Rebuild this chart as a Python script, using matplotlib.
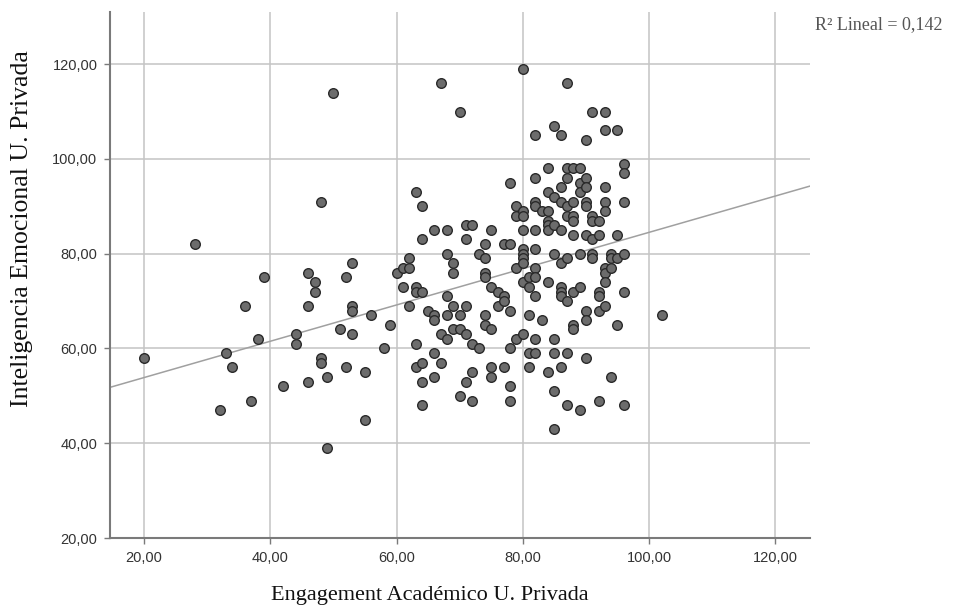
"""Scatter of Engagement vs Inteligencia Emocional (U. Privada) with linear fit."""
import matplotlib

matplotlib.use("Agg")
import matplotlib.pyplot as plt
from matplotlib.ticker import FuncFormatter

# values, one line per group of x values
engagement = [
    20, 28, 32, 33, 34, 36, 37, 38, 39, 42, 44, 44, 46, 46, 46, 47, 47, 48,
    48, 48, 49, 49, 50, 51, 52, 52, 53, 53, 53, 53, 55, 55, 56, 58, 59,
    60, 61, 61, 62, 62, 62, 63, 63, 63, 63, 63, 64, 64, 64, 64, 64, 64, 65,
    66, 66, 66, 66, 66, 67, 67, 67, 68, 68, 68, 68, 68, 69, 69, 69, 69,
    70, 70, 70, 70, 71, 71, 71, 71, 71, 72, 72, 72, 72, 73, 73,
    74, 74, 74, 74, 74, 74, 75, 75, 75, 75, 75, 76, 76, 77, 77, 77, 77,
    78, 78, 78, 78, 78, 78, 79, 79, 79, 79,
    80, 80, 80, 80, 80, 80, 80, 80, 80, 80, 81, 81, 81, 81, 81,
    82, 82, 82, 82, 82, 82, 82, 82, 82, 82, 82, 83, 83,
    84, 84, 84, 84, 84, 84, 84, 84,
    85, 85, 85, 85, 85, 85, 85, 85, 86, 86, 86, 86, 86, 86, 86, 86, 86,
    87, 87, 87, 87, 87, 87, 87, 87, 87, 88, 88, 88, 88, 88, 88, 88, 88,
    89, 89, 89, 89, 89, 89,
    90, 90, 90, 90, 90, 90, 90, 90, 90, 91, 91, 91, 91, 91, 91,
    92, 92, 92, 92, 92, 92, 93, 93, 93, 93, 93, 93, 93, 93, 93,
    94, 94, 94, 94, 95, 95, 95, 95, 96, 96, 96, 96, 96, 96, 102,
]
inteligencia = [
    58, 82, 47, 59, 56, 69, 49, 62, 75, 52, 63, 61, 76, 69, 53, 74, 72, 91,
    58, 57, 54, 39, 114, 64, 75, 56, 78, 69, 68, 63, 55, 45, 67, 60, 65,
    76, 77, 73, 77, 79, 69, 93, 73, 72, 61, 56, 90, 83, 72, 57, 53, 48, 68,
    85, 67, 66, 59, 54, 116, 63, 57, 85, 80, 71, 67, 62, 78, 76, 69, 64,
    110, 67, 64, 50, 86, 83, 69, 63, 53, 86, 61, 55, 49, 80, 60,
    82, 79, 76, 75, 67, 65, 85, 73, 64, 56, 54, 72, 69, 82, 71, 70, 56,
    95, 82, 68, 60, 52, 49, 90, 88, 77, 62,
    119, 89, 88, 85, 81, 80, 79, 78, 74, 63, 75, 73, 67, 59, 56,
    105, 96, 91, 90, 85, 81, 77, 75, 71, 62, 59, 89, 66,
    98, 93, 89, 87, 86, 85, 74, 55,
    107, 92, 86, 80, 62, 59, 51, 43, 105, 94, 91, 85, 78, 73, 72, 71, 56,
    116, 98, 96, 90, 88, 79, 70, 59, 48, 98, 91, 88, 87, 84, 72, 65, 64,
    98, 95, 93, 80, 73, 47,
    104, 96, 94, 91, 90, 84, 68, 66, 58, 110, 88, 87, 83, 80, 79,
    87, 84, 72, 71, 68, 49, 110, 106, 94, 91, 89, 77, 76, 74, 69,
    80, 79, 77, 54, 106, 84, 79, 65, 99, 97, 91, 80, 72, 48, 67,
]

fit_intercept = 46.2
fit_slope = 0.383
r2_label = "R² Lineal = 0,142"

x_ticks = [20, 40, 60, 80, 100, 120]
y_ticks = [20, 40, 60, 80, 100, 120]
x_lim = (14.6, 125.5)
y_lim = (20, 131)

x_title = "Engagement Académico U. Privada"
y_title = "Inteligencia Emocional U. Privada"


def comma_fmt(v, _pos):
    return f"{v:.2f}".replace(".", ",")


def main():
    fig = plt.figure(figsize=(9.54, 6.05), dpi=100)
    ax = fig.add_axes([110 / 954, 1 - 538 / 605, 700 / 954, 526 / 605])

    ax.set_xlim(*x_lim)
    ax.set_ylim(*y_lim)
    ax.set_xticks(x_ticks)
    ax.set_yticks(y_ticks)
    ax.xaxis.set_major_formatter(FuncFormatter(comma_fmt))
    ax.yaxis.set_major_formatter(FuncFormatter(comma_fmt))
    ax.grid(True, color="#c4c4c4", lw=1.1, zorder=0)
    ax.set_axisbelow(True)

    for side in ("top", "right"):
        ax.spines[side].set_visible(False)
    for side in ("left", "bottom"):
        ax.spines[side].set_color("#7a7a7a")
        ax.spines[side].set_linewidth(1.5)
    ax.tick_params(length=4, width=1, color="#7a7a7a", labelsize=10.5,
                   labelcolor="#333333", pad=5)
    for lab in ax.get_xticklabels() + ax.get_yticklabels():
        lab.set_family("Liberation Sans")

    # fitted line across the whole x range
    xs = list(x_lim)
    ax.plot(xs, [fit_intercept + fit_slope * v for v in xs],
            color="#a0a0a0", lw=1.1, zorder=2)

    ax.scatter(engagement, inteligencia, s=48, facecolor="#6c6c6c",
               edgecolor="#2a2a2a", linewidth=1.0, zorder=3)

    serif = "Liberation Serif"
    fig.text(430 / 954, 1 - 600 / 605, x_title, ha="center", va="baseline",
             fontsize=16, family=serif, color="#111111")
    fig.text(11 / 954, 1 - 229 / 605, y_title, ha="left", va="center",
             rotation=90, fontsize=18.5, family=serif, color="#111111")
    fig.text(815 / 954, 1 - 25 / 605, r2_label, ha="left", va="center",
             fontsize=13, family=serif, color="#555555")

    fig.savefig("out.png", dpi=100)
    plt.close(fig)


if __name__ == "__main__":
    main()
